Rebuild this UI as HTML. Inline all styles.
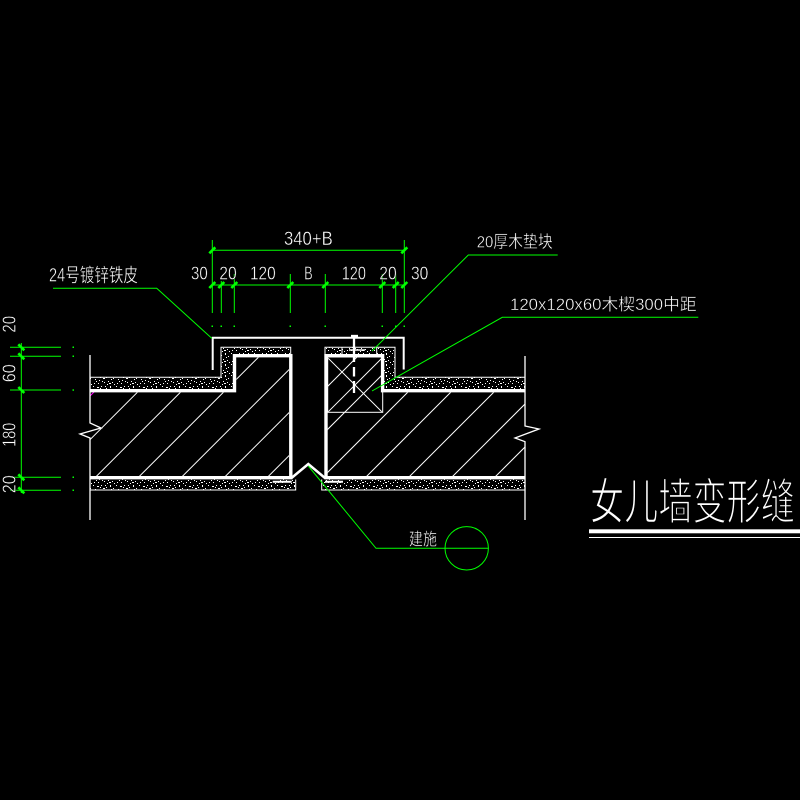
<!DOCTYPE html>
<html><head><meta charset="utf-8"><style>
html,body{margin:0;padding:0;background:#000;}
svg{display:block;}
text{font-family:"Liberation Sans","Noto Sans CJK SC",sans-serif;fill:#fff;}
</style></head><body>
<svg width="800" height="800" viewBox="0 0 800 800" xmlns="http://www.w3.org/2000/svg">
<defs>
<pattern id="sp" patternUnits="userSpaceOnUse" width="23" height="11">
<rect x="1" y="1" width="1" height="1" fill="#fff"/><rect x="5" y="2" width="2" height="1" fill="#fff"/>
<rect x="9" y="1" width="1" height="1" fill="#fff"/><rect x="14" y="3" width="1" height="1" fill="#fff"/>
<rect x="18" y="1" width="1" height="2" fill="#fff"/><rect x="21" y="4" width="1" height="1" fill="#fff"/>
<rect x="3" y="5" width="1" height="1" fill="#fff"/><rect x="7" y="6" width="1" height="1" fill="#fff"/>
<rect x="11" y="4" width="2" height="1" fill="#fff"/><rect x="16" y="7" width="1" height="1" fill="#fff"/>
<rect x="20" y="8" width="1" height="1" fill="#fff"/><rect x="2" y="9" width="1" height="1" fill="#fff"/>
<rect x="6" y="9" width="1" height="1" fill="#fff"/><rect x="12" y="8" width="1" height="1" fill="#fff"/>
<rect x="15" y="10" width="1" height="1" fill="#fff"/><rect x="19" y="5" width="1" height="1" fill="#fff"/>
<rect x="10" y="7" width="1" height="1" fill="#fff"/><rect x="22" y="10" width="1" height="1" fill="#fff"/>
<rect x="8" y="3" width="1" height="1" fill="#fff"/><rect x="13" y="1" width="1" height="1" fill="#fff"/>
<rect x="17" y="9" width="2" height="1" fill="#fff"/><rect x="4" y="7" width="1" height="1" fill="#fff"/>
</pattern>
<clipPath id="cl"><polygon points="90,392.5 236.3,392.5 236.3,357.5 289,357.5 289,476 90,476"/></clipPath>
<clipPath id="cr"><polygon points="327.6,357.5 381,357.5 381,392.5 525,392.5 525,476 327.6,476"/></clipPath>
</defs>
<rect width="800" height="800" fill="#000"/>

<!-- speckle fills -->
<g fill="url(#sp)">
<polygon points="90,377.3 221,377.3 221,347.3 290.7,347.3 290.7,354 233,354 233,389 90,389"/>
<polygon points="325,347.3 395,347.3 395,377.3 525,377.3 525,389 381,389 381,354 325,354"/>
<rect x="90" y="479.5" width="205.7" height="10.5"/>
<rect x="321.7" y="479.5" width="203.3" height="10.5"/>
</g>
<g stroke="#fff" stroke-width="1" fill="none">
<polyline points="90,377.3 221,377.3 221,347.3 290.7,347.3 290.7,354"/>
<polyline points="325,354 325,347.3 395,347.3 395,377.3 525,377.3"/>
<polyline points="90,490 295.7,490 295.7,479.5"/>
<polyline points="321.7,479.5 321.7,490 525,490"/>
<line x1="342" y1="347.3" x2="342" y2="354"/>
<line x1="376.7" y1="347.3" x2="376.7" y2="354"/>
</g>

<!-- hatching -->
<g stroke="#fff" stroke-width="1" clip-path="url(#cl)">
<line x1="29.7" y1="500" x2="229.7" y2="300"/>
<line x1="72.7" y1="500" x2="272.7" y2="300"/>
<line x1="115.7" y1="500" x2="315.7" y2="300"/>
<line x1="158.7" y1="500" x2="358.7" y2="300"/>
<line x1="201.7" y1="500" x2="401.7" y2="300"/>
<line x1="244.7" y1="500" x2="444.7" y2="300"/>
<line x1="287.7" y1="500" x2="487.7" y2="300"/>
</g>
<line x1="90" y1="396" x2="96" y2="390" stroke="#ff00ff" stroke-width="1"/>
<g stroke="#fff" stroke-width="1" clip-path="url(#cr)">
<line x1="214" y1="500" x2="414" y2="300"/>
<line x1="257" y1="500" x2="457" y2="300"/>
<line x1="300" y1="500" x2="500" y2="300"/>
<line x1="343" y1="500" x2="543" y2="300"/>
<line x1="386" y1="500" x2="586" y2="300"/>
<line x1="429" y1="500" x2="629" y2="300"/>
<line x1="472" y1="500" x2="672" y2="300"/>
</g>

<!-- wood block -->
<g stroke="#fff" stroke-width="1" fill="none">
<rect x="327.7" y="357" width="55" height="55.3"/>
<line x1="328.3" y1="358.3" x2="381.7" y2="411.7"/>
<line x1="381.7" y1="358.3" x2="328.3" y2="411.7"/>
</g>

<!-- thick structure lines -->
<g stroke="#fff" stroke-width="3.4" fill="none" stroke-linejoin="miter">
<polyline points="90,390.7 234.5,390.7 234.5,355.7 290.8,355.7 290.8,477.7 90,477.7"/>
<polyline points="525,390.7 382.6,390.7 382.6,355.7 326,355.7 326,477.7 525,477.7"/>
</g>
<polyline points="291.5,478 308.3,464 325,478" stroke="#fff" stroke-width="2.5" fill="none"/>
<g stroke="#fff" stroke-width="2">
<line x1="272.7" y1="481.7" x2="291.7" y2="481.7"/>
<line x1="325" y1="481.7" x2="343" y2="481.7"/>
</g>
<!-- flashing -->
<polyline points="212.7,370 212.7,337.7 403.7,337.7 403.7,369.5" stroke="#fff" stroke-width="2" fill="none"/>
<!-- nail -->
<g stroke="#fff" stroke-width="2.3">
<line x1="351" y1="336" x2="358" y2="336"/>
<line x1="354" y1="336" x2="354" y2="362"/>
<line x1="354" y1="367" x2="354" y2="376.5"/>
<line x1="354" y1="381" x2="354" y2="393"/>
</g>
<line x1="349" y1="350" x2="365" y2="350" stroke="#fff" stroke-width="1.5"/>

<!-- wall edges with break symbols -->
<g stroke="#fff" stroke-width="1.3" fill="none">
<polyline points="90,355 90,423 101,428 80,434 90,438 90,520"/>
<polyline points="525,356 525,426 539,429 515,438 525,441.7 525,520"/>
</g>

<!-- green dimensions -->
<g stroke="#00ff00" stroke-width="1" fill="none">
<line x1="212.3" y1="240" x2="212.3" y2="313"/>
<line x1="404.3" y1="240" x2="404.3" y2="313"/>
<line x1="212.3" y1="250.3" x2="404.3" y2="250.3"/>
<line x1="212.3" y1="285" x2="404.3" y2="285"/>
<line x1="221.3" y1="281" x2="221.3" y2="313"/>
<line x1="234.3" y1="274" x2="234.3" y2="313"/>
<line x1="290.3" y1="274" x2="290.3" y2="313"/>
<line x1="325.3" y1="274" x2="325.3" y2="313"/>
<line x1="382.3" y1="274" x2="382.3" y2="313"/>
<line x1="395.7" y1="274" x2="395.7" y2="313"/>
<line x1="21.3" y1="343" x2="21.3" y2="493"/>
<line x1="10" y1="347.3" x2="61" y2="347.3"/>
<line x1="10" y1="356.3" x2="61" y2="356.3"/>
<line x1="10" y1="390" x2="61" y2="390"/>
<line x1="10" y1="477.3" x2="61" y2="477.3"/>
<line x1="10" y1="490.3" x2="61" y2="490.3"/>
<!-- leaders -->
<polyline points="53,288.3 156.7,288.3 212,338.5"/>
<polyline points="557.7,255 468.3,255 372,351"/>
<polyline points="698.3,317.3 502.3,317.3 372,391"/>
<polyline points="308.3,466 376,548.3 488.3,548.3"/>
<circle cx="466.7" cy="548.3" r="21.7"/>
</g>
<g stroke="#00ff00" stroke-width="2.6">
<line x1="209.3" y1="253.3" x2="215.3" y2="247.3"/>
<line x1="401.3" y1="253.3" x2="407.3" y2="247.3"/>
<line x1="209.3" y1="288" x2="215.3" y2="282"/>
<line x1="218.3" y1="288" x2="224.3" y2="282"/>
<line x1="231.3" y1="288" x2="237.3" y2="282"/>
<line x1="287.3" y1="288" x2="293.3" y2="282"/>
<line x1="322.3" y1="288" x2="328.3" y2="282"/>
<line x1="379.3" y1="288" x2="385.3" y2="282"/>
<line x1="392.7" y1="288" x2="398.7" y2="282"/>
<line x1="401.3" y1="288" x2="407.3" y2="282"/>
<line x1="18.3" y1="344.3" x2="24.3" y2="350.3"/>
<line x1="18.3" y1="353.3" x2="24.3" y2="359.3"/>
<line x1="18.3" y1="387" x2="24.3" y2="393"/>
<line x1="18.3" y1="474.3" x2="24.3" y2="480.3"/>
<line x1="18.3" y1="487.3" x2="24.3" y2="493.3"/>
</g>
<g fill="#00ff00">
<rect x="211.5" y="325.5" width="1.5" height="1.5"/><rect x="220.5" y="325.5" width="1.5" height="1.5"/>
<rect x="233.5" y="325.5" width="1.5" height="1.5"/><rect x="289.5" y="325.5" width="1.5" height="1.5"/>
<rect x="324.5" y="325.5" width="1.5" height="1.5"/><rect x="381.5" y="325.5" width="1.5" height="1.5"/>
<rect x="395" y="325.5" width="1.5" height="1.5"/><rect x="403.5" y="325.5" width="1.5" height="1.5"/>
<rect x="72.5" y="346.5" width="1.5" height="1.5"/><rect x="72.5" y="355.5" width="1.5" height="1.5"/>
<rect x="72.5" y="389.3" width="1.5" height="1.5"/><rect x="72.5" y="476.5" width="1.5" height="1.5"/>
<rect x="72.5" y="489.5" width="1.5" height="1.5"/>
</g>

<!-- dimension texts -->
<g font-size="18" stroke="#000" stroke-width="0.4">
<text x="284" y="245" font-size="19.5" textLength="48.7" lengthAdjust="spacingAndGlyphs">340+B</text>
<text x="191" y="279.3" textLength="16.7" lengthAdjust="spacingAndGlyphs">30</text>
<text x="219.3" y="279.3" textLength="17.4" lengthAdjust="spacingAndGlyphs">20</text>
<text x="250" y="279.3" textLength="25.7" lengthAdjust="spacingAndGlyphs">120</text>
<text x="304.3" y="279.3" textLength="8.4" lengthAdjust="spacingAndGlyphs">B</text>
<text x="341.7" y="279.3" textLength="24.3" lengthAdjust="spacingAndGlyphs">120</text>
<text x="379.3" y="279.3" textLength="17.4" lengthAdjust="spacingAndGlyphs">20</text>
<text x="411" y="279.3" textLength="17.3" lengthAdjust="spacingAndGlyphs">30</text>
<text transform="translate(15.6,324.3) rotate(-90)" text-anchor="middle" textLength="16.7" lengthAdjust="spacingAndGlyphs">20</text>
<text transform="translate(15.6,373.3) rotate(-90)" text-anchor="middle" textLength="18" lengthAdjust="spacingAndGlyphs">60</text>
<text transform="translate(15.6,434.7) rotate(-90)" text-anchor="middle" textLength="24" lengthAdjust="spacingAndGlyphs">180</text>
<text transform="translate(15.6,484.2) rotate(-90)" text-anchor="middle" textLength="18" lengthAdjust="spacingAndGlyphs">20</text>
</g>

<!-- labels -->
<g stroke="#000" stroke-width="0.4">
<text x="49" y="281.5" font-size="19" textLength="89" lengthAdjust="spacingAndGlyphs">24号镀锌铁皮</text>
<text x="476.7" y="247.5" font-size="17" textLength="76" lengthAdjust="spacingAndGlyphs">20厚木垫块</text>
<text x="510" y="310" font-size="16.5" textLength="186.7" lengthAdjust="spacingAndGlyphs">120x120x60木楔300中距</text>
<text x="409" y="545" font-size="17" textLength="28" lengthAdjust="spacingAndGlyphs">建施</text>
</g>

<!-- title -->
<text x="590" y="519" font-size="49" textLength="205" lengthAdjust="spacingAndGlyphs" stroke="#000" stroke-width="1.5">女儿墙变形缝</text>
<rect x="589" y="529.3" width="211" height="4" fill="#fff"/>
<rect x="589" y="537" width="211" height="1" fill="#fff"/>
</svg>
</body></html>
